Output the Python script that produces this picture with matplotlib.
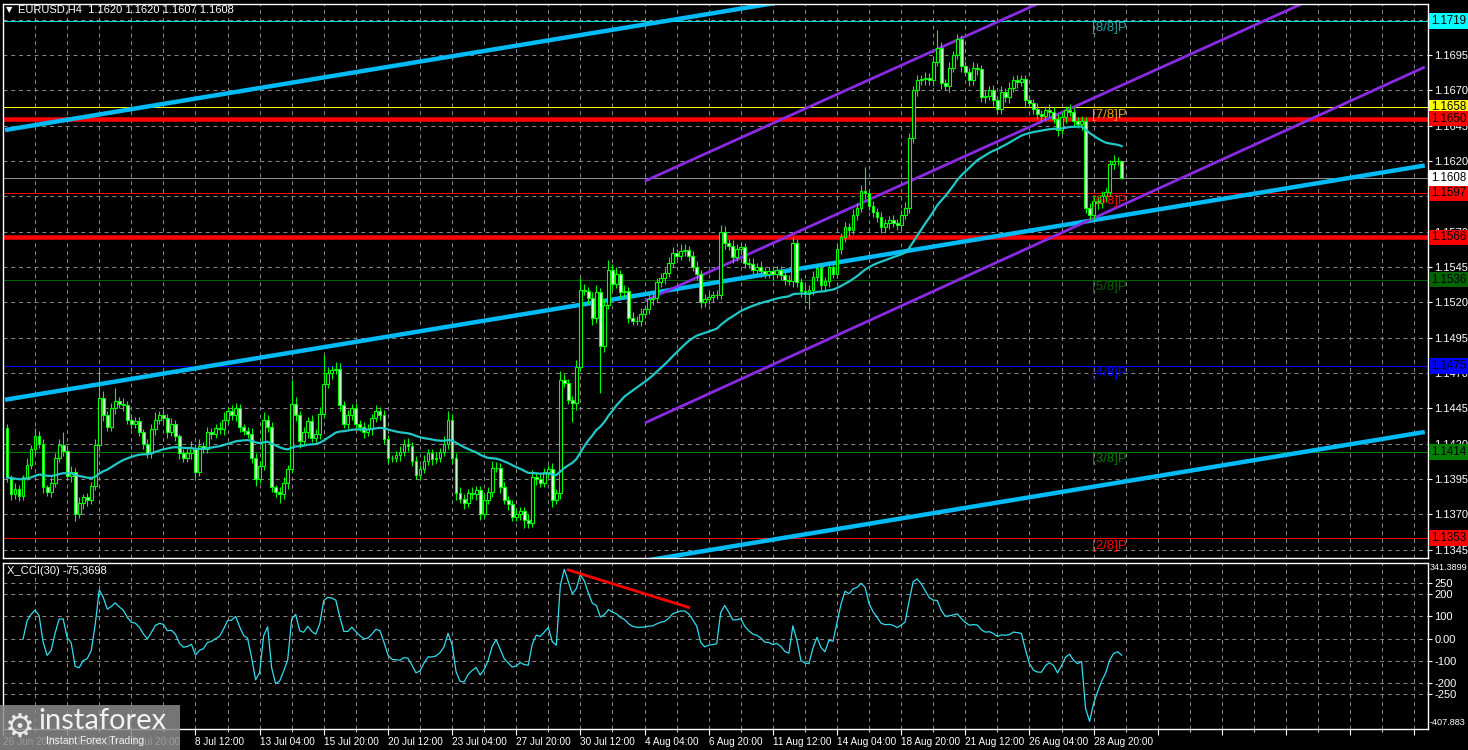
import matplotlib
matplotlib.use("Agg")
import matplotlib.pyplot as plt
import matplotlib.transforms as mtransforms
from matplotlib.patches import Rectangle
import numpy as np
import pandas as pd

plt.rcParams['font.family'] = ['Liberation Sans', 'DejaVu Sans']

# EURUSD H4 candles, values are pips above 1.1000
first_open = 431
close_pips = [
    396, 384, 388, 383, 396, 405, 416, 425, 420, 389,
    386, 392, 410, 419, 415, 397, 400, 370, 378, 382,
    380, 390, 419, 452, 440, 432, 445, 450, 448, 447,
    437, 434, 436, 428, 420, 413, 430, 437, 440, 438,
    428, 434, 425, 413, 410, 413, 417, 400, 418, 416,
    428, 427, 431, 430, 437, 443, 440, 445, 432, 429,
    427, 410, 395, 404, 437, 432, 389, 386, 384, 392,
    402, 448, 440, 422, 428, 436, 424, 427, 441, 462,
    470, 472, 473, 447, 434, 440, 445, 434, 432, 428,
    430, 438, 443,
    440, 423, 410, 410, 412, 414, 420, 418, 408, 398,
    402, 408, 413, 409, 410, 414, 420, 437, 410, 385,
    381, 378, 385, 384, 387, 370, 380, 386, 403, 403,
    389, 380, 377, 368, 370, 372, 366, 364, 396, 395,
    392, 400, 402, 380, 385, 465, 463, 451, 449, 474,
    529, 528, 523, 509, 527, 489, 518, 543, 533, 540,
    527, 528, 509, 507, 507, 512, 515, 522, 523, 534,
    537, 541, 548, 555, 553, 556, 557, 553, 545, 540,
    520, 522, 524, 525, 525, 570, 562, 560, 552, 558,
    559, 548, 547, 543,
    545, 542, 540, 542, 540, 543, 539, 536, 535, 562,
    534, 528, 526, 529, 538, 544, 532, 535, 545, 540,
    558, 566, 573, 571, 582, 587, 599, 597, 588, 584,
    580, 573, 576, 578, 576, 575, 582, 587, 636, 670,
    677, 678, 679, 677, 690, 700, 675, 673, 686, 695,
    706, 687, 683, 677, 686, 685, 665, 666, 670, 663,
    657, 669, 665, 672, 677, 676, 678, 663, 661, 657,
    653, 652, 656, 655, 650, 642, 651, 656, 655, 648,
    646, 648, 587, 582, 592, 590, 595, 598, 618, 620,
    620, 608,
]
up_wick = [
    3, 2, 4, 3, 2, 5, 3, 6, 4, 3, 2, 4, 3, 4, 9, 3, 4, 3, 4, 2,
    3, 3, 4, 19, 5, 3, 4, 9, 3, 4, 3, 4, 3, 3, 2, 3, 4, 5, 3, 4,
    3, 4, 3, 2, 3, 4, 5, 3, 5, 3, 4, 3, 3, 4, 5, 3, 4, 4, 3, 2,
    3, 4, 3, 4, 5, 3, 3, 2, 3, 4, 3, 17, 5, 3, 4, 3, 4, 3, 5, 21,
    4, 3, 5, 4, 3, 4, 3, 4, 3, 3, 4, 3, 4,
    3, 4, 3, 2, 3, 4, 3, 4, 3, 3, 3, 4, 3, 3, 4, 3, 5, 6, 4, 3,
    4, 3, 3, 4, 3, 3, 4, 3, 5, 4, 3, 4, 3, 3, 4, 3, 3, 4, 5, 3,
    4, 3, 3, 4, 3, 6, 4, 3, 3, 5, 8, 4, 3, 4, 5, 3, 4, 7, 4, 5,
    3, 4, 3, 4, 3, 4, 3, 3, 4, 3, 4, 3, 4, 4, 3, 5, 4, 3, 3, 4,
    3, 4, 3, 3, 4, 5, 4, 3, 4, 3, 4, 3, 3, 4,
    3, 4, 3, 3, 4, 3, 3, 4, 3, 4, 3, 3, 4, 3, 4, 3, 4, 3, 4, 3,
    4, 3, 4, 3, 4, 3, 4, 17, 3, 4, 3, 4, 3, 3, 4, 3, 3, 4, 4, 3,
    4, 3, 4, 3, 4, 13, 4, 3, 4, 3, 4, 3, 4, 3, 4, 3, 3, 4, 3, 4,
    3, 4, 3, 4, 3, 4, 3, 3, 4, 3, 4, 3, 3, 4, 3, 3, 4, 3, 4, 3,
    3, 4, 3, 3, 4, 3, 4, 3, 3, 4, 3, 0,
]
dn_wick = [
    3, 4, 3, 4, 3, 2, 3, 4, 3, 4, 3, 4, 3, 3, 4, 3, 4, 5, 3, 4,
    4, 3, 3, 4, 4, 3, 3, 4, 3, 4, 3, 4, 3, 3, 4, 3, 3, 4, 3, 3,
    4, 3, 3, 4, 3, 3, 4, 5, 3, 3, 3, 4, 3, 3, 4, 3, 3, 4, 4, 3,
    3, 4, 5, 3, 3, 4, 3, 4, 6, 3, 4, 3, 4, 5, 3, 4, 3, 3, 4, 3,
    3, 4, 3, 4, 3, 4, 3, 4, 3, 4, 3, 4, 3,
    3, 3, 4, 3, 3, 4, 3, 3, 4, 3, 4, 3, 3, 4, 3, 3, 3, 4, 4, 5,
    3, 4, 3, 3, 4, 4, 3, 3, 4, 3, 4, 3, 4, 3, 3, 4, 6, 4, 3, 4,
    3, 3, 4, 5, 3, 4, 3, 3, 14, 5, 3, 3, 4, 5, 4, 33, 4, 3, 4, 3,
    4, 3, 4, 3, 3, 4, 3, 3, 4, 3, 3, 4, 3, 3, 4, 3, 3, 4, 3, 4,
    4, 3, 3, 4, 3, 3, 4, 3, 4, 3, 3, 4, 3, 3,
    3, 4, 3, 3, 4, 3, 3, 4, 3, 4, 3, 4, 3, 11, 4, 3, 4, 3, 4, 3,
    3, 4, 3, 4, 3, 4, 3, 4, 3, 4, 3, 4, 3, 4, 3, 4, 3, 3, 4, 3,
    4, 3, 4, 3, 4, 3, 4, 3, 4, 3, 3, 4, 3, 4, 3, 4, 3, 4, 3, 4,
    3, 4, 3, 4, 3, 4, 3, 4, 3, 4, 3, 4, 3, 4, 3, 4, 3, 4, 3, 4,
    3, 4, 4, 4, 3, 4, 3, 4, 3, 4, 3, 1,
]

time_labels = ["26 Jun 2026", "1 Jul 04:00", "3 Jul 20:00", "8 Jul 12:00",
               "13 Jul 04:00", "15 Jul 20:00", "20 Jul 12:00", "23 Jul 04:00",
               "27 Jul 20:00", "30 Jul 12:00", "4 Aug 04:00", "6 Aug 20:00",
               "11 Aug 12:00", "14 Aug 04:00", "18 Aug 20:00", "21 Aug 12:00",
               "26 Aug 04:00", "28 Aug 20:00"]

price_ticks = [1.1345, 1.1370, 1.1395, 1.1420, 1.1445, 1.1470, 1.1495, 1.1520,
               1.1545, 1.1570, 1.1595, 1.1620, 1.1645, 1.1670, 1.1695, 1.1720]

# horizontal levels: price, line colour, line width (px), box colour
level_prices = [1.1719, 1.1658, 1.1650, 1.1608, 1.1597, 1.1566, 1.1536, 1.1475, 1.1414, 1.1353]
level_colors = ['#00E0E0', '#FFFF00', '#FF0000', '#909090', '#FF0000',
                '#FF0000', '#006400', '#0000FF', '#008000', '#FF0000']
level_widths = [1, 1, 4.5, 1, 1, 4.5, 1, 1, 1, 1]
box_colors = ['#00FFFF', '#FFFF00', '#FF0000', '#FFFFFF', '#FF0000',
              '#FF0000', '#006400', '#0000FF', '#008000', '#FF0000']

murrey_prices = [1.1719, 1.1658, 1.1597, 1.1536, 1.1475, 1.1414, 1.1353]
murrey_texts = ['[8/8]P', '[7/8]P', '[6/8]P', '[5/8]P', '[4/8]P', '[3/8]P', '[2/8]P']
murrey_colors = ['#1FA5A5', '#E8A317', '#FF0000', '#006400', '#0000FF', '#008000', '#FF0000']

# trend lines (bar index, price)
sky_lines = [[(-0.5, 1.16419), (191.5, 1.17318)],
             [(-0.5, 1.14510), (353.6, 1.16168)],
             [(160.3, 1.13376), (353.6, 1.14282)]]
violet_lines = [[(159.1, 1.16058), (259.1, 1.17339)],
                [(159.1, 1.15209), (354.0, 1.17711)],
                [(159.1, 1.14346), (353.6, 1.16865)]]
cci_div_line = [(140, 310), (170, 141)]

cci_levels = [250, 200, 100, 0, -100, -200, -250]
cci_level_labels = ['250', '200', '100', '0.00', '-100', '-200', '-250']

# ---- derived series
n = len(close_pips)
idx = np.arange(n)
c = np.array(close_pips) / 1e4 + 1.1
o = np.concatenate([[first_open], close_pips[:-1]]) / 1e4 + 1.1
hi = np.maximum(o, c) + np.array(up_wick) / 1e4
lo = np.minimum(o, c) - np.array(dn_wick) / 1e4

ma = pd.Series(c).ewm(span=50, adjust=False).mean()
tp = pd.Series((hi + lo + c) / 3)
sma_tp = tp.rolling(30, min_periods=5).mean()
mad = tp.rolling(30, min_periods=5).apply(lambda x: np.mean(np.abs(x - x.mean())), raw=True)
cci = (tp - sma_tp) / (0.015 * mad)

# ---- figure
W, H = 1468, 750
fig = plt.figure(figsize=(W / 100, H / 100), dpi=100, facecolor='black')
ax = fig.add_axes([3 / W, 1 - 558 / H, 1425 / W, 554 / H], facecolor='black')
ax2 = fig.add_axes([3 / W, 1 - 729 / H, 1425 / W, 166 / H], facecolor='black', sharex=ax)

grid_kw = dict(color='#8C8C8C', linestyle=(0, (4, 4)), linewidth=0.7)
xgrid = [8 * k - 1 for k in range(1, 45)]
for a in (ax, ax2):
    for x in xgrid:
        a.axvline(x, zorder=0, **grid_kw)
    for s in a.spines.values():
        s.set_color('white')
        s.set_linewidth(1)
for p in price_ticks:
    ax.axhline(p, zorder=0, **grid_kw)
for lv in cci_levels:
    ax2.axhline(lv, zorder=0, **grid_kw)

# levels
for p, col, w in zip(level_prices, level_colors, level_widths):
    ax.axhline(p, color=col, linewidth=w * 0.72, zorder=1)

# trend lines
for seg in sky_lines:
    ax.plot([seg[0][0], seg[1][0]], [seg[0][1], seg[1][1]], color='#00BBF5',
            linewidth=3.2, solid_capstyle='butt', zorder=2)
for seg in violet_lines:
    ax.plot([seg[0][0], seg[1][0]], [seg[0][1], seg[1][1]], color='#8A2BE2',
            linewidth=2.0, solid_capstyle='butt', zorder=2)

# candles
bull = c >= o
ax.vlines(idx, lo, hi, color='#00FF00', linewidth=0.8, zorder=3)
ax.bar(idx[bull], (c - o)[bull], bottom=o[bull], width=0.7, color='black',
       edgecolor='#00FF00', linewidth=0.8, zorder=4)
ax.bar(idx[~bull], (c - o)[~bull], bottom=o[~bull], width=0.7, color='#DFFFDF',
       edgecolor='#00FF00', linewidth=0.8, zorder=4)

ax.plot(idx, ma, color='#20C8C8', linewidth=1.6, zorder=5)

# murrey labels
for p, t, col in zip(murrey_prices, murrey_texts, murrey_colors):
    ax.annotate(t, (270.6, p), xytext=(0, -1), textcoords='offset points',
                color=col, fontsize=9.5, va='top', ha='left', zorder=6)

ax.set_xlim(-1.0, 354.4)
ax.set_ylim(1.13390, 1.17311)
ax.yaxis.tick_right()
ax.set_yticks(price_ticks)
ax.set_yticklabels([f'{p:.4f}' for p in price_ticks[:-1]] + [''])
ax.tick_params(axis='y', colors='white', labelsize=8, length=3, pad=1.5)
ax.tick_params(axis='x', bottom=False, labelbottom=False)

blend = mtransforms.blended_transform_factory(ax.transAxes, ax.transData)
for p, bg in zip(level_prices, box_colors):
    ax.text(1.0 + 3 / 1425, p, f'{p:.4f}', transform=blend, va='center', ha='left',
            fontsize=8.3, color='black', clip_on=False, zorder=10,
            bbox=dict(boxstyle='square,pad=0.15', fc=bg, ec='none'))

# CCI panel
ax2.plot(idx, cci, color='#33DDEE', linewidth=0.9, zorder=3)
ax2.plot([cci_div_line[0][0], cci_div_line[1][0]], [cci_div_line[0][1], cci_div_line[1][1]],
         color='#FF0000', linewidth=2.0, zorder=4)
ax2.set_ylim(-407.883, 341.3899)
ax2.yaxis.tick_right()
ax2.set_yticks(cci_levels)
ax2.set_yticklabels(cci_level_labels)
ax2.tick_params(axis='y', colors='white', labelsize=8, length=3, pad=1.5)
blend2 = mtransforms.blended_transform_factory(ax2.transAxes, ax2.transAxes)
ax2.text(1.0 + 2 / 1425, 0.97, '341.3899', transform=blend2, color='white',
         fontsize=6.6, va='center', ha='left', clip_on=False)
ax2.text(1.0 + 2 / 1425, 0.04, '-407.883', transform=blend2, color='white',
         fontsize=6.6, va='center', ha='left', clip_on=False)

major = [16 * k - 1 for k in range(23)]
minor = [16 * k + 7 for k in range(22)]
ax2.set_xticks(major)
ax2.set_xticklabels(time_labels + [''] * (len(major) - len(time_labels)))
ax2.set_xticks(minor, minor=True)
ax2.tick_params(axis='x', which='major', colors='white', labelsize=7.2, length=4, pad=1.5)
ax2.tick_params(axis='x', which='minor', colors='white', length=2)
for lab in ax2.get_xticklabels():
    lab.set_ha('left')

# header texts
fig.text(6 / W, 1 - 10 / H, '\u25bc', color='white', fontsize=6, va='center',
         family=['DejaVu Sans'])
fig.text(18 / W, 1 - 10 / H, 'EURUSD,H4  1.1620 1.1620 1.1607 1.1608', color='white',
         fontsize=8, va='center')
fig.text(7 / W, 1 - 571 / H, 'X_CCI(30) -75,3698', color='white', fontsize=8, va='center')

# watermark
fig.patches.append(Rectangle((0, 0), 180 / W, 45 / H, transform=fig.transFigure,
                             facecolor='#8A8A8A', alpha=0.85, edgecolor='none', zorder=20))
fig.text(5 / W, 1 - 727 / H, '\u2699', color='#E8E8E8', fontsize=24, va='center',
         family=['DejaVu Sans'], zorder=21)
fig.text(38 / W, 1 - 721 / H, 'instaforex', color='#F2F2F2', fontsize=21, va='center',
         family=['Lato', 'DejaVu Sans'], zorder=21)
fig.text(46 / W, 1 - 741 / H, 'Instant Forex Trading', color='#F2F2F2', fontsize=7.5,
         va='center', zorder=21)

fig.savefig('out.png', dpi=100, facecolor='black')
